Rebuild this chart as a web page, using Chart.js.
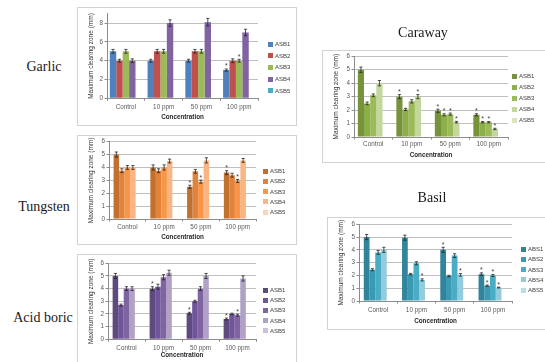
<!DOCTYPE html>
<html>
<head>
<meta charset="utf-8">
<script src="https://cdn.jsdelivr.net/npm/chart.js@4/dist/chart.umd.min.js"></script>
<style>
html, body { margin: 0; padding: 0; background: #fff; }
body { width: 545px; height: 362px; position: relative; overflow: hidden; font-family: "Liberation Sans", Arial, sans-serif; }
.panel { position: absolute; border: 1px solid #d2d2d2; box-sizing: border-box; background: #fff; }
.panel canvas { position: absolute; left: 0; top: 0; }
.title { position: absolute; font-family: "Liberation Serif", "Times New Roman", serif; font-size: 14px; color: #1a1a1a; transform: translate(-50%, -50%); white-space: nowrap; }
.leg { position: absolute; font-size: 6px; line-height: 6px; color: #404040; white-space: nowrap; }
.leg i { display: inline-block; width: 5px; height: 5px; margin-right: 2px; vertical-align: top; margin-top: 0.5px; }
</style>
</head>
<body>
<script>
// ---- data ----
const categories = ['Control', '10 ppm', '50 ppm', '100 ppm'];
const asbNames = ['ASB1', 'ASB2', 'ASB3', 'ASB4', 'ASB5'];
const absNames = ['ABS1', 'ABS2', 'ABS3', 'ABS4', 'ABS5'];

// zone diameters (mm), one row per strain, columns follow categories
const garlicValues = [
  [5.0, 4.0, 4.0, 3.0],
  [4.0, 5.0, 5.0, 4.0],
  [5.0, 5.0, 5.0, 4.0],
  [4.0, 8.0, 8.1, 7.0]
];
const garlicErrors = [
  [0.2, 0.15, 0.15, 0.12],
  [0.15, 0.2, 0.2, 0.2],
  [0.2, 0.2, 0.2, 0.15],
  [0.2, 0.35, 0.4, 0.35]
];
const garlicStars = [[0,0,0,1],[0,0,0,0],[0,0,0,1],[0,0,0,0]];

const carawayValues = [
  [5.0, 3.0, 1.95, 1.65],
  [2.5, 2.05, 1.65, 1.1],
  [3.1, 2.65, 1.7, 1.1],
  [4.0, 3.0, 1.1, 0.6]
];
const carawayErrors = [
  [0.2, 0.15, 0.12, 0.08],
  [0.1, 0.08, 0.08, 0.05],
  [0.1, 0.12, 0.08, 0.05],
  [0.2, 0.15, 0.06, 0.05]
];
const carawayStars = [[0,1,1,1],[0,0,1,1],[0,0,1,1],[0,1,1,1]];

const tungstenValues = [
  [5.0, 4.0, 2.5, 3.6],
  [3.75, 3.75, 3.7, 3.4],
  [4.0, 4.0, 2.9, 2.95],
  [4.0, 4.5, 4.55, 4.55]
];
const tungstenErrors = [
  [0.2, 0.2, 0.12, 0.15],
  [0.15, 0.15, 0.15, 0.15],
  [0.15, 0.2, 0.12, 0.12],
  [0.15, 0.15, 0.2, 0.15]
];
const tungstenStars = [[0,0,1,1],[0,0,0,0],[0,0,1,1],[0,0,0,0]];

const acidValues = [
  [5.0, 4.0, 2.05, 1.6],
  [2.7, 4.15, 3.0, 2.0],
  [4.0, 4.9, 4.0, 1.9],
  [4.0, 5.25, 5.0, 4.8]
];
const acidErrors = [
  [0.2, 0.15, 0.08, 0.08],
  [0.08, 0.2, 0.08, 0.06],
  [0.15, 0.2, 0.15, 0.08],
  [0.15, 0.2, 0.2, 0.2]
];
const acidStars = [[0,1,1,1],[0,0,0,0],[0,0,0,1],[0,0,0,0]];

const basilValues = [
  [5.0, 4.95, 4.0, 2.1],
  [2.45, 2.1, 1.95, 1.2],
  [3.8, 2.95, 3.55, 2.0],
  [4.0, 1.65, 2.05, 1.05]
];
const basilErrors = [
  [0.2, 0.2, 0.2, 0.1],
  [0.08, 0.06, 0.06, 0.05],
  [0.15, 0.12, 0.15, 0.08],
  [0.2, 0.08, 0.1, 0.03]
];
const basilStars = [[0,0,1,1],[0,0,0,1],[0,0,0,1],[0,1,1,1]];

// ---- palettes ----
const garlicColors   = ['#4F81BD', '#C0504D', '#9BBB59', '#8064A2', '#4BACC6'];
const carawayColors  = ['#76933C', '#8CAF4A', '#9BBB59', '#C3D69B', '#D7E4BD'];
const tungstenColors = ['#C0712F', '#E3823A', '#F79646', '#FAB584', '#FCD5B5'];
const acidColors     = ['#5F4A7E', '#70559B', '#8064A2', '#B2A1C7', '#CCC0DA'];
const basilColors    = ['#31849B', '#3A99B3', '#4BACC6', '#93CDDD', '#B7DEE8'];

Chart.defaults.font.family = '"Liberation Sans", Arial, sans-serif';
Chart.defaults.color = '#595959';

// error bars and significance stars drawn on top of the bars
const errorBarPlugin = {
  id: 'errorBars',
  afterDatasetsDraw(chart, args, opts) {
    const ctx = chart.ctx;
    const yScale = chart.scales.y;
    ctx.save();
    opts.errors.forEach((row, i) => {
      const meta = chart.getDatasetMeta(i);
      row.forEach((e, j) => {
        const bar = meta.data[j];
        const v = chart.data.datasets[i].data[j];
        if (!bar || v == null) return;
        const yt = yScale.getPixelForValue(v + e);
        const yb = yScale.getPixelForValue(Math.max(0, v - e));
        const x = bar.x;
        ctx.strokeStyle = '#262626';
        ctx.lineWidth = 0.8;
        ctx.beginPath();
        ctx.moveTo(x, yt); ctx.lineTo(x, yb);
        ctx.moveTo(x - 1.6, yt); ctx.lineTo(x + 1.6, yt);
        ctx.moveTo(x - 1.6, yb); ctx.lineTo(x + 1.6, yb);
        ctx.stroke();
        if (opts.stars[i][j]) {
          ctx.fillStyle = '#404040';
          ctx.font = '7px "Liberation Sans", Arial, sans-serif';
          ctx.textAlign = 'center';
          ctx.textBaseline = 'alphabetic';
          ctx.fillText('*', x, yt - 0.5);
        }
      });
    });
    ctx.restore();
  }
};

function makePanel(cfg) {
  const panel = document.createElement('div');
  panel.className = 'panel';
  Object.assign(panel.style, { left: cfg.x + 'px', top: cfg.y + 'px', width: cfg.w + 'px', height: cfg.h + 'px' });
  document.body.appendChild(panel);

  const canvas = document.createElement('canvas');
  canvas.width = cfg.w; canvas.height = cfg.h;
  canvas.style.width = cfg.w + 'px'; canvas.style.height = cfg.h + 'px';
  panel.appendChild(canvas);

  // legend
  cfg.names.forEach((n, i) => {
    const item = document.createElement('div');
    item.className = 'leg';
    item.style.left = cfg.legX + 'px';
    item.style.top = (cfg.legTop + i * cfg.legStep - 3) + 'px';
    item.innerHTML = '<i style="background:' + cfg.colors[i] + '"></i>' + n;
    panel.appendChild(item);
  });

  const datasets = cfg.names.map((n, i) => ({
    label: n,
    data: cfg.values[i] ? cfg.values[i] : categories.map(() => null),
    backgroundColor: cfg.colors[i],
    borderWidth: 0,
    categoryPercentage: cfg.catPct,
    barPercentage: 1.0
  }));

  const tickLen = 2.5;
  new Chart(canvas, {
    type: 'bar',
    data: { labels: categories, datasets },
    plugins: [errorBarPlugin],
    options: {
      responsive: false,
      animation: false,
      devicePixelRatio: 1,
      layout: { padding: { left: 0, top: cfg.t, right: cfg.w - cfg.r, bottom: 0 } },
      plugins: {
        legend: { display: false },
        tooltip: { enabled: false },
        errorBars: { errors: cfg.errors, stars: cfg.stars }
      },
      scales: {
        x: {
          grid: { display: true, drawOnChartArea: false, drawTicks: true, tickLength: tickLen, color: '#8c8c8c', offset: true },
          border: { display: true, color: '#8c8c8c', width: 1 },
          ticks: { font: { size: 6.3 }, color: '#595959', padding: cfg.labY - 3.5 - cfg.b - tickLen, maxRotation: 0, autoSkip: false },
          title: { display: true, text: 'Concentration', font: { size: 6.3, weight: 'bold' }, color: '#262626',
                   padding: { top: 0, bottom: cfg.h - cfg.concY - 3.8 } },
          afterFit(scale) { scale.height = cfg.h - cfg.b; }
        },
        y: {
          min: 0, max: cfg.yMax,
          grid: { color: '#bfbfbf', lineWidth: 1, drawTicks: true, tickLength: tickLen, tickColor: '#8c8c8c' },
          border: { display: true, color: '#8c8c8c', width: 1 },
          ticks: { stepSize: 1, font: { size: 6.3 }, color: '#595959', padding: 1.5 },
          title: { display: true, text: 'Maximum clearing zone (mm)', font: { size: 6.5 }, color: '#333333',
                   padding: { top: cfg.yTitleX - 3.9, bottom: 0 } },
          afterFit(scale) { scale.width = cfg.l; }
        }
      }
    }
  });
}

function addTitle(text, x, y) {
  const d = document.createElement('div');
  d.className = 'title';
  d.style.left = x + 'px'; d.style.top = y + 'px';
  d.textContent = text;
  document.body.appendChild(d);
}

makePanel({ x: 77, y: 7, w: 220, h: 119, l: 29, r: 180, t: 5.7, b: 90.3, yMax: 9,
  labY: 99, concY: 109, yTitleX: 13, legX: 190, legTop: 36, legStep: 11.7, catPct: 0.85,
  names: asbNames, colors: garlicColors, values: garlicValues, errors: garlicErrors, stars: garlicStars });

makePanel({ x: 77, y: 135, w: 220, h: 110, l: 31, r: 178, t: 5.7, b: 83, yMax: 6,
  labY: 91, concY: 101, yTitleX: 13, legX: 185, legTop: 35, legStep: 10.3, catPct: 0.75,
  names: asbNames, colors: tungstenColors, values: tungstenValues, errors: tungstenErrors, stars: tungstenStars });

makePanel({ x: 77, y: 254, w: 220, h: 120, l: 30, r: 178, t: 8.3, b: 84.3, yMax: 6,
  labY: 93, concY: 100.5, yTitleX: 13, legX: 185, legTop: 35, legStep: 10.2, catPct: 0.75,
  names: asbNames, colors: acidColors, values: acidValues, errors: acidErrors, stars: acidStars });

makePanel({ x: 322, y: 50, w: 232, h: 113, l: 31, r: 185, t: 5.3, b: 86, yMax: 6,
  labY: 93, concY: 104, yTitleX: 13, legX: 189, legTop: 25, legStep: 11, catPct: 0.8,
  names: asbNames, colors: carawayColors, values: carawayValues, errors: carawayErrors, stars: carawayStars });

makePanel({ x: 327, y: 217, w: 232, h: 113, l: 31, r: 184, t: 6.3, b: 83, yMax: 6,
  labY: 92, concY: 103, yTitleX: 13, legX: 193, legTop: 31, legStep: 10.3, catPct: 0.75,
  names: absNames, colors: basilColors, values: basilValues, errors: basilErrors, stars: basilStars });

addTitle('Garlic', 44, 67);
addTitle('Tungsten', 44, 207);
addTitle('Acid boric', 43, 318);
addTitle('Caraway', 423, 33);
addTitle('Basil', 432, 198);
</script>
</body>
</html>
